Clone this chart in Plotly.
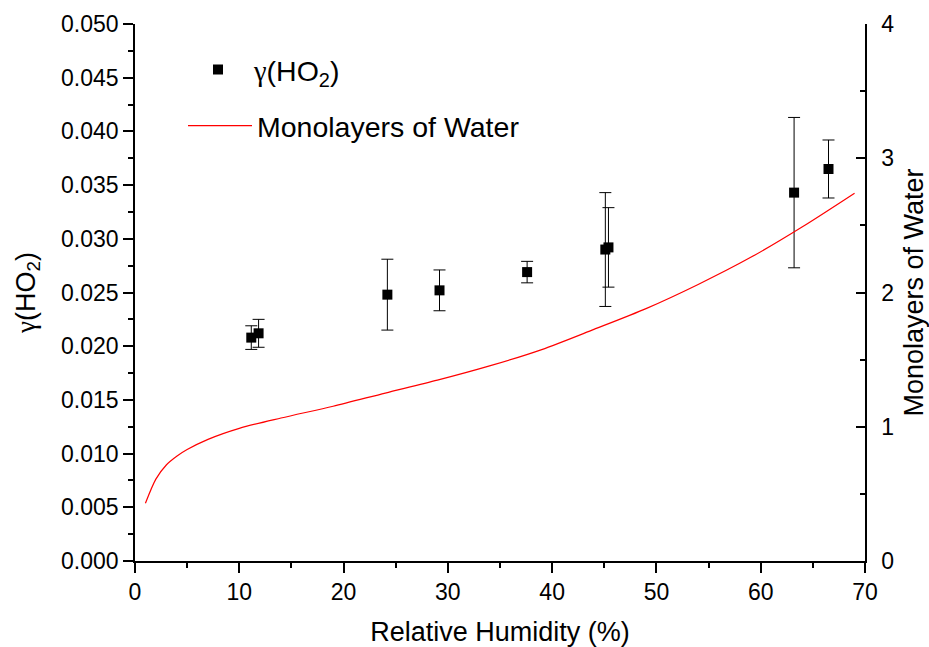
import plotly.graph_objects as go

# gamma(HO2) measurements
rh = [11.15, 11.85, 24.2, 29.2, 37.6, 45.1, 45.4, 63.2, 66.5]
gamma = [0.0208, 0.0212, 0.0248, 0.0252, 0.0269, 0.0290, 0.0292, 0.0343, 0.0365]
gamma_err = [0.0011, 0.0013, 0.0033, 0.0019, 0.0010, 0.0053, 0.0037, 0.0070, 0.0027]

# Monolayers of water curve
ml_rh = [1, 2, 3, 4, 5, 7, 10, 14, 19, 24, 29, 34, 39, 44, 49, 54, 59, 64, 69]
ml = [0.43, 0.61, 0.715, 0.78, 0.83, 0.906, 0.988, 1.065, 1.153, 1.251, 1.347,
      1.453, 1.575, 1.725, 1.88, 2.06, 2.26, 2.49, 2.74]

FONT = "Arial, Liberation Sans, sans-serif"
GAMMA = '<span style="font-family:Liberation Serif, Times New Roman, serif">γ</span>(HO<sub>2</sub>)'

fig = go.Figure()
fig.add_trace(go.Scatter(
    x=rh, y=gamma, mode="markers", name=GAMMA,
    marker=dict(symbol="square", size=10, color="black"),
    error_y=dict(type="data", array=gamma_err, color="black", thickness=1, width=6),
    legend="legend", showlegend=True,
))
fig.add_trace(go.Scatter(
    x=ml_rh, y=ml, mode="lines", name="Monolayers of Water",
    line=dict(color="#ff0000", width=1.2, shape="spline", smoothing=0.8),
    yaxis="y2", legend="legend2", showlegend=True,
))

W, H = 929, 647
L, R, T, B = 135, 865, 24, 561

def px(xp):
    return (xp - L) / (R - L)

def py(yp):
    return (B - yp) / (B - T)

fig.update_layout(
    width=W, height=H, autosize=False, showlegend=True,
    margin=dict(l=L, r=W - R, t=T, b=H - B, pad=0),
    paper_bgcolor="white", plot_bgcolor="white",
    font=dict(family=FONT, size=23, color="black"),
    xaxis=dict(
        range=[0, 70], dtick=10, tick0=0, showgrid=False, zeroline=False, automargin=False,
        showline=True, linecolor="black", linewidth=1.5,
        ticks="outside", ticklen=10, tickwidth=1.5, tickcolor="black",
        minor=dict(dtick=5, ticks="outside", ticklen=5, tickwidth=1.5, tickcolor="black", showgrid=False),
        title=dict(text="Relative Humidity (%)", font=dict(size=27), standoff=19),
        tickfont=dict(size=23),
    ),
    xaxis2=dict(
        range=[0, 70], dtick=10, tick0=0, overlaying="x", anchor="y", side="top", automargin=False,
        showgrid=False, zeroline=False, showline=True, linecolor="black", linewidth=1.5,
        ticks="inside", ticklen=9, tickwidth=1.5, tickcolor="black", showticklabels=False,
        minor=dict(dtick=5, ticks="inside", ticklen=5, tickwidth=1.5, tickcolor="black", showgrid=False),
        matches="x",
    ),
    yaxis=dict(
        range=[0, 0.05], dtick=0.005, tick0=0, tickformat=".3f", automargin=False,
        showgrid=False, zeroline=False, showline=True, linecolor="black", linewidth=1.5,
        ticks="outside", ticklen=10, tickwidth=1.5, tickcolor="black",
        minor=dict(dtick=0.0025, ticks="outside", ticklen=5, tickwidth=1.5, tickcolor="black", showgrid=False),
        title=dict(text=GAMMA, font=dict(size=27), standoff=18),
        tickfont=dict(size=23),
    ),
    yaxis2=dict(
        range=[0, 4], dtick=1, tick0=0, overlaying="y", side="right", anchor="x", automargin=False,
        showgrid=False, zeroline=False, showline=True, linecolor="black", linewidth=1.5,
        ticks="inside", ticklen=9, tickwidth=1.5, tickcolor="black",
        minor=dict(dtick=0.5, ticks="inside", ticklen=5, tickwidth=1.5, tickcolor="black", showgrid=False),
        title=dict(text="Monolayers of Water", font=dict(size=27), standoff=32),
        tickfont=dict(size=23), ticklabelstandoff=10,
    ),
    legend=dict(
        x=px(182), y=py(70), xanchor="left", yanchor="middle",
        bgcolor="rgba(0,0,0,0)", borderwidth=0, font=dict(size=28.5),
        itemwidth=62,
    ),
    legend2=dict(
        x=px(183), y=py(126), xanchor="left", yanchor="middle",
        bgcolor="rgba(0,0,0,0)", borderwidth=0, font=dict(size=28.5), itemwidth=64,
    ),
)

fig.write_html("out.html")
